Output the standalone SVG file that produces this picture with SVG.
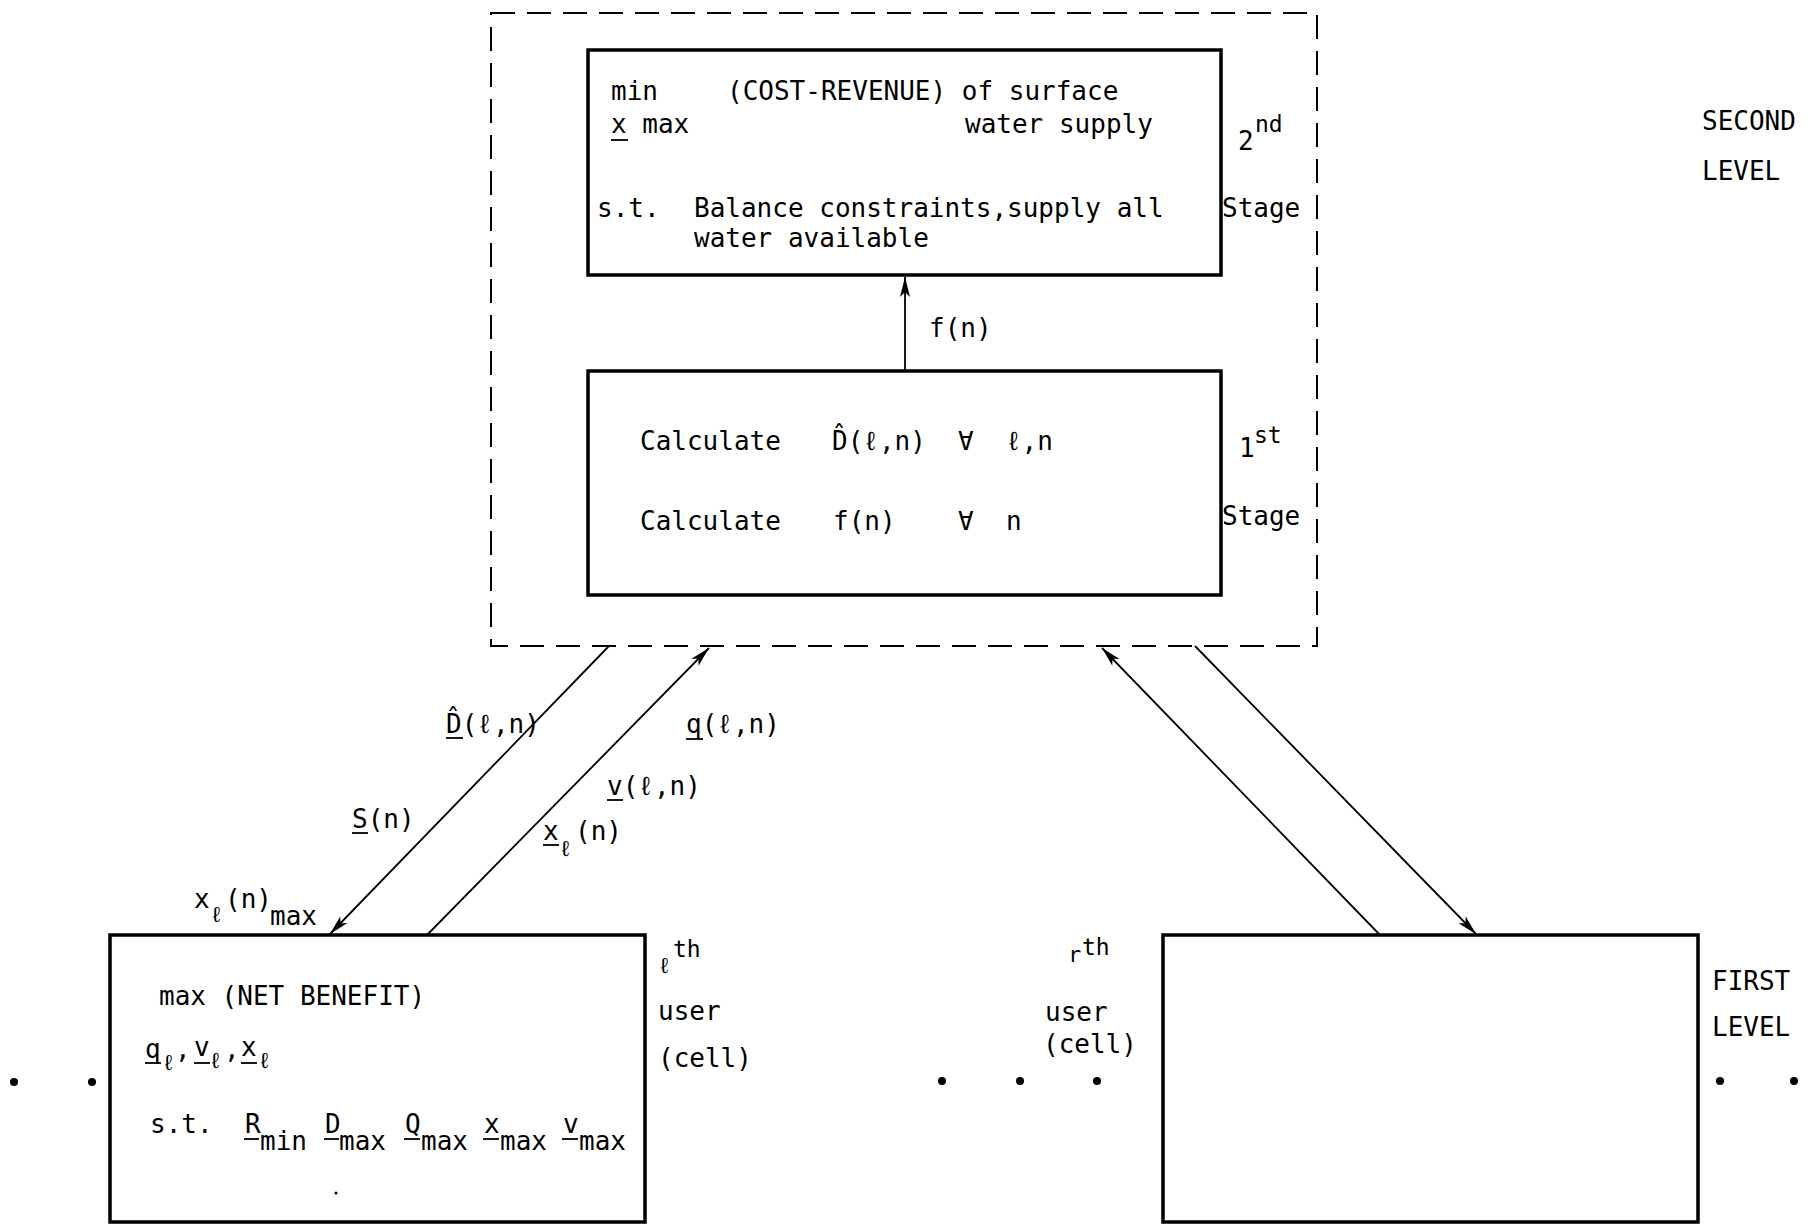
<svg xmlns="http://www.w3.org/2000/svg" width="1816" height="1224" viewBox="0 0 1816 1224">
<style>
text{font-family:"DejaVu Sans Mono","Liberation Mono",monospace;font-size:26px;fill:#000}
.sup{font-size:23px}
.sub{font-size:22px}
.box{fill:#fff;stroke:#000;stroke-width:3.5}
.dash{fill:none;stroke:#000;stroke-width:2;stroke-dasharray:24 12}
.conn{fill:none;stroke:#000;stroke-width:1.8}
.ul{stroke:#000;stroke-width:1.8}
</style>
<defs>
<marker id="ah" markerUnits="userSpaceOnUse" markerWidth="22" markerHeight="12" refX="20" refY="6" orient="auto">
<path d="M0,1 L20,6 L0,11 L5,6 z" fill="#000"/>
</marker>
</defs>
<rect width="1816" height="1224" fill="#fff"/>

<g id="second-level-frame">
<rect class="dash" x="491" y="13" width="826" height="633"/>
</g>

<g id="connectors">
<line class="conn" x1="905" y1="371" x2="905" y2="277" marker-end="url(#ah)"/>
<line class="conn" x1="609" y1="646" x2="330" y2="934" marker-end="url(#ah)"/>
<line class="conn" x1="427" y1="935" x2="709" y2="648" marker-end="url(#ah)"/>
<line class="conn" x1="1380" y1="935" x2="1102" y2="648" marker-end="url(#ah)"/>
<line class="conn" x1="1195" y1="646" x2="1476" y2="934" marker-end="url(#ah)"/>
</g>

<g id="stage2">
<rect class="box" x="588" y="50" width="633" height="225"/>
<text x="611" y="100">min</text>
<text x="727" y="100">(COST-REVENUE) of surface</text>
<text x="611" y="133">x max</text>
<line class="ul" x1="611" y1="140" x2="628" y2="140"/>
<text x="965" y="133">water supply</text>
<text x="597" y="217">s.t.</text>
<text x="694" y="217">Balance constraints,supply all</text>
<text x="694" y="247">water available</text>
<text x="1238" y="150">2</text>
<text class="sup" x="1255" y="132">nd</text>
<text x="1222" y="217">Stage</text>
</g>

<g id="stage1">
<rect class="box" x="588" y="371" width="633" height="224"/>
<text x="640" y="450">Calculate</text>
<text x="832" y="450">D&#x302;(ℓ,n)</text>
<text x="958" y="450">∀</text>
<text x="1006" y="450">ℓ,n</text>
<text x="640" y="530">Calculate</text>
<text x="833" y="530">f(n)</text>
<text x="958" y="530">∀</text>
<text x="1006" y="530">n</text>
<text x="1239" y="457">1</text>
<text class="sup" x="1254" y="443">st</text>
<text x="1222" y="525">Stage</text>
<text x="929" y="337">f(n)</text>
</g>

<g id="arrow-labels">
<text x="446" y="733">D&#x302;(ℓ,n)</text>
<line class="ul" x1="446" y1="738" x2="463" y2="738"/>
<text x="686" y="733">q(ℓ,n)</text>
<line class="ul" x1="686" y1="739" x2="703" y2="739"/>
<text x="607" y="795">v(ℓ,n)</text>
<line class="ul" x1="607" y1="800" x2="623" y2="800"/>
<text x="352" y="828">S(n)</text>
<line class="ul" x1="352" y1="833" x2="368" y2="833"/>
<text x="543" y="840">x</text>
<line class="ul" x1="543" y1="845" x2="559" y2="845"/>
<text class="sub" x="559" y="856">ℓ</text>
<text x="575" y="840">(n)</text>
<text x="194" y="908">x</text>
<text class="sub" x="210" y="922">ℓ</text>
<text x="225" y="908">(n)</text>
<text x="270" y="925">max</text>
</g>

<g id="user-l">
<rect class="box" x="110" y="935" width="535" height="287"/>
<text x="159" y="1005">max (NET BENEFIT)</text>
<text x="145" y="1058">q</text>
<line class="ul" x1="145" y1="1063" x2="161" y2="1063"/>
<text class="sub" x="162" y="1070">ℓ</text>
<text x="175" y="1058">,</text>
<text x="194" y="1056">v</text>
<line class="ul" x1="194" y1="1063" x2="210" y2="1063"/>
<text class="sub" x="209" y="1068">ℓ</text>
<text x="224" y="1058">,</text>
<text x="241" y="1056">x</text>
<line class="ul" x1="241" y1="1063" x2="257" y2="1063"/>
<text class="sub" x="258" y="1068">ℓ</text>
<text x="150" y="1133">s.t.</text>
<text x="245" y="1133">R</text>
<text x="260" y="1150">min</text>
<line class="ul" x1="244" y1="1139" x2="259" y2="1139"/>
<text x="325" y="1133">D</text>
<text x="339" y="1150">max</text>
<line class="ul" x1="324" y1="1139" x2="339" y2="1139"/>
<text x="405" y="1133">Q</text>
<text x="421" y="1150">max</text>
<line class="ul" x1="404" y1="1139" x2="420" y2="1139"/>
<text x="484" y="1133">x</text>
<text x="500" y="1150">max</text>
<line class="ul" x1="483" y1="1139" x2="499" y2="1139"/>
<text x="563" y="1133">v</text>
<text x="579" y="1150">max</text>
<line class="ul" x1="562" y1="1139" x2="578" y2="1139"/>
<circle cx="336" cy="1193" r="1.5" fill="#000"/>
<text class="sub" x="658" y="973">ℓ</text>
<text class="sup" x="673" y="957">th</text>
<text x="658" y="1020">user</text>
<text x="658" y="1067">(cell)</text>
</g>

<g id="user-r">
<rect class="box" x="1163" y="935" width="535" height="287"/>
<text class="sub" x="1068" y="962">r</text>
<text class="sup" x="1082" y="955">th</text>
<text x="1045" y="1021">user</text>
<text x="1043" y="1053">(cell)</text>
</g>

<g id="level-labels">
<text x="1702" y="130">SECOND</text>
<text x="1702" y="180">LEVEL</text>
<text x="1712" y="990">FIRST</text>
<text x="1712" y="1036">LEVEL</text>
</g>

<g id="ellipses" fill="#000">
<circle cx="14" cy="1082" r="4"/>
<circle cx="92" cy="1082" r="4"/>
<circle cx="942" cy="1081" r="4"/>
<circle cx="1020" cy="1081" r="4"/>
<circle cx="1097" cy="1081" r="4"/>
<circle cx="1720" cy="1081" r="4"/>
<circle cx="1794" cy="1081" r="4"/>
</g>
</svg>
